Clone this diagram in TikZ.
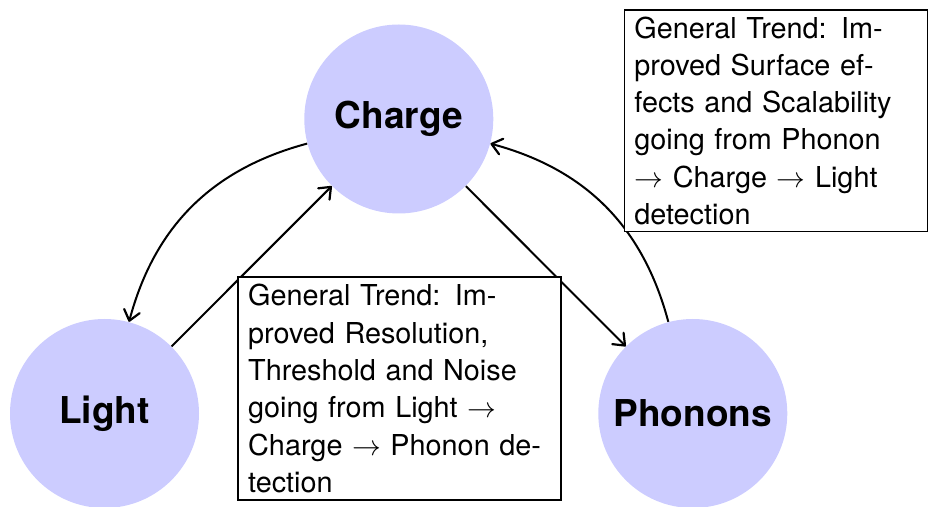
\documentclass[tikz,border=0pt]{standalone}
\usepackage{fontspec}
\setmainfont{TeX Gyre Heros}
\usetikzlibrary{arrows.meta}
\begin{document}
\begin{tikzpicture}[x=0.5pt,y=-0.5pt,
  topic/.style={circle,fill=blue!20,minimum size=94.5pt,inner sep=0pt,
    font=\fontsize{18.5}{22}\selectfont\bfseries},
  trend/.style={draw,line width=0.9pt,fill=white,anchor=north west,align=left,
    inner xsep=5pt,inner ysep=0pt,font=\fontsize{14.4}{18.65}\selectfont},
  link/.style={-{Straight Barb[length=5pt,width=8pt,line width=1.1pt,round]},line width=1pt}]
\useasboundingbox (0,0) rectangle (928,507);
\node[topic] (charge) at (398.8,119) {Charge};
\node[topic] (light) at (104.5,413.5) {Light};
\node[topic] (phonons) at (692.8,413.5) {Phonons};
\draw[link] (charge) to[bend right=30] (light);
\draw[link] (light) -- (charge);
\draw[link] (charge) -- (phonons);
\draw[link] (phonons) to[bend right=30] (charge);
\node[trend,text width=141.5pt,minimum width=151.5pt,minimum height=110.85pt] (trendA) at (623.5,9)
  {General Trend: Im-\\proved Surface ef-\\fects and Scalability\\going from Phonon\\$\rightarrow$ Charge $\rightarrow$ Light\\detection};
\node[trend,text width=151.35pt,minimum width=161.35pt,minimum height=111.35pt] (trendB) at (237.3,276.3)
  {General Trend: Im-\\proved Resolution,\\Threshold and Noise\\going from Light $\rightarrow$\\Charge $\rightarrow$ Phonon de-\\tection};
\end{tikzpicture}
\end{document}
